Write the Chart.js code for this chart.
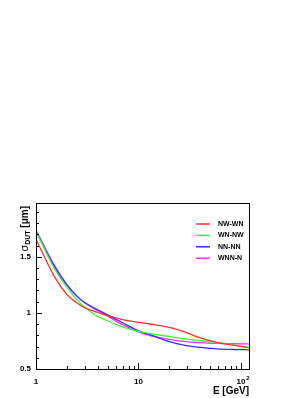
<!DOCTYPE html>
<html>
<head>
<meta charset="utf-8">
<script src="https://cdn.jsdelivr.net/npm/chart.js@4"></script>
<style>
  html, body { margin: 0; padding: 0; background: #fff; }
  #wrap { width: 308px; height: 398px; position: relative; }
</style>
</head>
<body>
<div id="wrap"><canvas id="c"></canvas></div>
<script>
// energies in GeV
const energies = [1, 1.5, 2, 2.5, 3, 4, 5, 7, 10, 13, 20, 27, 40, 58, 84, 120];

// resolution curves, sigma_DUT in um
const nwWn  = [1.657, 1.33, 1.165, 1.09, 1.045, 1.005, 0.975, 0.94, 0.915, 0.902, 0.872, 0.838, 0.777, 0.738, 0.713, 0.69];
const wnNw  = [1.73, 1.40, 1.23, 1.12, 1.05, 0.97, 0.93, 0.875, 0.835, 0.815, 0.79, 0.77, 0.752, 0.736, 0.716, 0.69];
const nnNn  = [1.73, 1.42, 1.25, 1.15, 1.09, 1.028, 0.982, 0.912, 0.84, 0.806, 0.745, 0.715, 0.692, 0.68, 0.674, 0.671];
const wnnN  = [1.74, 1.43, 1.255, 1.15, 1.09, 1.02, 0.972, 0.895, 0.83, 0.797, 0.765, 0.747, 0.735, 0.728, 0.725, 0.724];

const seriesNames = ["NW-WN", "WN-NW", "NN-NN", "WNN-N"];
const seriesColors = ["#ff3030", "#30ff30", "#3030ff", "#ff30ff"];

const xTickLabels = [{ v: 1, t: "1" }, { v: 10, t: "10" }, { v: 100, t: "10", sup: "2" }];
const yTickLabels = [0.5, 1, 1.5];

const FONT = "'Liberation Sans', Arial, sans-serif";

function pts(vals) {
    return energies.map((e, i) => ({ x: e, y: vals[i] }));
}

// frame, ticks, labels, legend drawn ROOT-style
const rootStyle = {
    id: "rootStyle",
    afterDraw(chart) {
        const ctx = chart.ctx;
        const a = chart.chartArea;
        const xs = chart.scales.x;
        const ys = chart.scales.y;
        ctx.save();
        ctx.strokeStyle = "#000";
        ctx.lineWidth = 1;
        ctx.strokeRect(Math.round(a.left) + 0.5, Math.round(a.top) + 0.5,
            Math.round(a.right - a.left), Math.round(a.bottom - a.top));

        // x ticks (log)
        ctx.beginPath();
        for (let d = 1; d <= 100; d *= 10) {
            for (let m = 1; m < 10; m++) {
                const v = d * m;
                if (v > xs.max) break;
                const px = Math.round(xs.getPixelForValue(v)) + 0.5;
                const len = m === 1 ? 6 : 3;
                ctx.moveTo(px, a.bottom);
                ctx.lineTo(px, a.bottom - len);
            }
        }
        // y ticks
        for (let v = 0.5; v <= ys.max + 1e-6; v += 0.1) {
            const py = Math.round(ys.getPixelForValue(v)) + 0.5;
            const major = Math.abs(v * 2 - Math.round(v * 2)) < 1e-6;
            ctx.moveTo(a.left, py);
            ctx.lineTo(a.left + (major ? 6 : 3), py);
        }
        ctx.stroke();

        ctx.fillStyle = "#000";
        ctx.font = "bold 8px " + FONT;
        ctx.textBaseline = "middle";
        ctx.textAlign = "right";
        yTickLabels.forEach(v => {
            ctx.fillText(String(v), a.left - 5, ys.getPixelForValue(v));
        });
        ctx.textAlign = "center";
        ctx.textBaseline = "top";
        xTickLabels.forEach(l => {
            const px = xs.getPixelForValue(l.v);
            ctx.font = "bold 8px " + FONT;
            ctx.fillText(l.t, px, a.bottom + 9);
            if (l.sup) {
                ctx.font = "bold 6px " + FONT;
                ctx.fillText(l.sup, px + 7, a.bottom + 6);
            }
        });

        // x title
        ctx.font = "bold 10px " + FONT;
        ctx.textAlign = "right";
        ctx.textBaseline = "alphabetic";
        ctx.fillText("E [GeV]", a.right, a.bottom + 25);

        // y title, rotated
        ctx.save();
        ctx.translate(28, a.top + 3);
        ctx.rotate(-Math.PI / 2);
        const parts = [
            { t: "σ", f: "11px", dy: 0 },
            { t: "DUT", f: "bold 7px", dy: 2 },
            { t: " [μm]", f: "bold 10px", dy: 0 }
        ];
        let total = 0;
        parts.forEach(p => { ctx.font = p.f + " " + FONT; p.w = ctx.measureText(p.t).width; total += p.w; });
        let cx = -total;
        ctx.textAlign = "left";
        parts.forEach(p => {
            ctx.font = p.f + " " + FONT;
            ctx.fillText(p.t, cx, p.dy);
            cx += p.w;
        });
        ctx.restore();

        // legend
        chart.data.datasets.forEach((ds, i) => {
            const y = 224 + i * 11.4;
            ctx.strokeStyle = ds.borderColor;
            ctx.lineWidth = 1.5;
            ctx.beginPath();
            ctx.moveTo(196, y);
            ctx.lineTo(210, y);
            ctx.stroke();
            ctx.fillStyle = "#000";
            ctx.font = "bold 7px " + FONT;
            ctx.textAlign = "left";
            ctx.textBaseline = "middle";
            ctx.fillText(ds.label, 218, y);
        });
        ctx.restore();
    }
};

const allSeries = [nwWn, wnNw, nnNn, wnnN];

new Chart(document.getElementById("c"), {
    type: "line",
    data: {
        datasets: allSeries.map((vals, i) => ({
            label: seriesNames[i],
            data: pts(vals),
            borderColor: seriesColors[i],
            borderWidth: 1.3,
            pointRadius: 0,
            fill: false,
            cubicInterpolationMode: "monotone"
        }))
    },
    options: {
        responsive: true,
        maintainAspectRatio: false,
        animation: false,
        layout: { padding: { left: 36, right: 59, top: 203, bottom: 29 } },
        scales: {
            x: { type: "logarithmic", min: 1, max: 120, display: false },
            y: { type: "linear", min: 0.5, max: 1.98, display: false }
        },
        plugins: {
            legend: { display: false },
            tooltip: { enabled: false }
        }
    },
    plugins: [rootStyle]
});
</script>
</body>
</html>
